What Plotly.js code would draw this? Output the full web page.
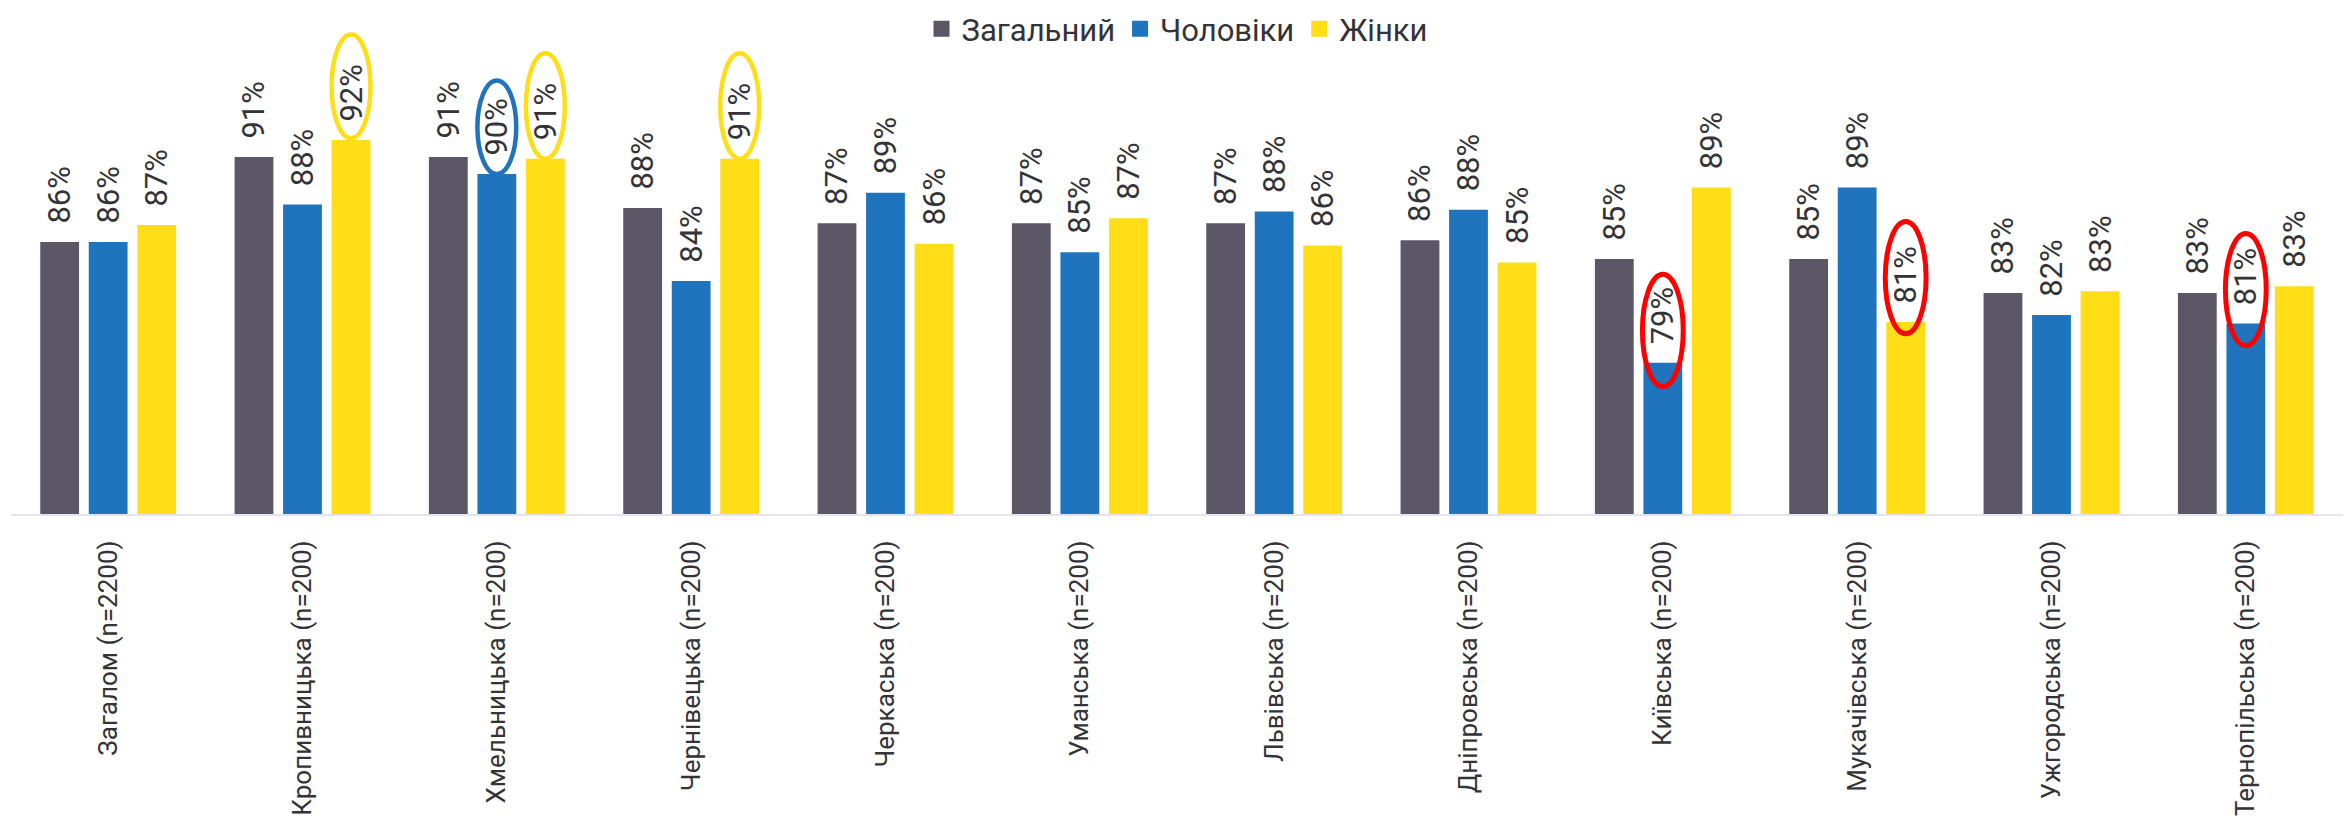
<!DOCTYPE html>
<html>
<head>
<meta charset="utf-8">
<script src="https://cdn.plot.ly/plotly-3.0.1.min.js"></script>
<style>
  html, body { margin: 0; padding: 0; background: #ffffff; }
  #chart { width: 2344px; height: 822px; }
</style>
</head>
<body>
<div id="chart"></div>
<script>
// ---- data (percent) ----
var categories = [
  'Загалом (n=2200)', 'Кропивницька (n=200)', 'Хмельницька (n=200)', 'Чернівецька (n=200)',
  'Черкаська (n=200)', 'Уманська (n=200)', 'Львівська (n=200)', 'Дніпровська (n=200)',
  'Київська (n=200)', 'Мукачівська (n=200)', 'Ужгородська (n=200)', 'Тернопільська (n=200)'
];
var seriesNames = ['Загальний', 'Чоловіки', 'Жінки'];
var totalValues = [86.0, 91.0, 91.0, 88.0, 87.1, 87.1, 87.1, 86.1, 85.0, 85.0, 83.0, 83.0];
var menValues   = [86.0, 88.2, 90.0, 83.7, 88.9, 85.4, 87.8, 87.9, 78.9, 89.2, 81.7, 81.2];
var womenValues = [87.0, 92.0, 90.9, 90.9, 85.9, 87.4, 85.8, 84.8, 89.2, 81.3, 83.1, 83.4];

// ---- styling ----
var colors = ['#5B5767', '#1F74BD', '#FFDE17'];
var textColor = '#333338';
var fontFamily = 'Roboto, "Noto Sans", sans-serif';
var BARGAP = 0.251;
var GROUPGAP = 0.2;

// highlighted labels: [seriesIndex, categoryIndex, colour, bottomOffset(%), topOffset(%)]
var highlights = [
  [2, 1, '#FFDE17', 0.1, 6.2],
  [1, 2, '#1F74BD', 0.0, 5.5],
  [2, 2, '#FFDE17', 0.0, 6.2],
  [2, 3, '#FFDE17', 0.0, 6.2],
  [1, 8, '#FF0000', -1.4, 5.2],
  [2, 9, '#FF0000', -0.7, 5.9],
  [1, 11, '#FF0000', -1.3, 5.3]
];

var allValues = [totalValues, menValues, womenValues];
var NBSP = '\u00A0';

var traces = allValues.map(function (vals, i) {
  return {
    type: 'bar',
    name: seriesNames[i],
    legendgroup: 'g' + i,
    showlegend: false,
    x: categories,
    y: vals,
    marker: { color: colors[i] },
    texttemplate: NBSP + NBSP + '%{y:.0f}%',
    textposition: 'outside',
    textangle: -90,
    constraintext: 'none',
    cliponaxis: false,
    textfont: { family: fontFamily, size: 31, color: textColor },
    hoverinfo: 'skip'
  };
});

// legend entries with larger square symbols
seriesNames.forEach(function (nm, i) {
  traces.push({
    type: 'scatter',
    mode: 'markers',
    name: nm,
    legendgroup: 'g' + i,
    showlegend: true,
    x: [null],
    y: [null],
    marker: { color: colors[i], symbol: 'square', size: 18 },
    hoverinfo: 'skip'
  });
});

var slot = (1 - BARGAP) / 3;
var shapes = highlights.map(function (h) {
  var s = h[0], c = h[1];
  var v = allValues[s][c];
  var cx = c + (s - 1) * slot;
  var isRed = h[2] === '#FF0000';
  var hw = isRed ? 0.105 : 0.1;
  return {
    type: 'circle',
    xref: 'x', yref: 'y',
    x0: cx - hw, x1: cx + hw,
    y0: v + h[3], y1: v + h[4],
    line: { color: h[2], width: isRed ? 5 : 4.5 },
    fillcolor: 'rgba(0,0,0,0)',
    layer: 'above'
  };
});

var layout = {
  width: 2344,
  height: 822,
  margin: { l: 11, r: 1, t: 10, b: 308, pad: 0 },
  paper_bgcolor: '#ffffff',
  plot_bgcolor: '#ffffff',
  barmode: 'group',
  bargap: BARGAP,
  bargroupgap: GROUPGAP,
  showlegend: true,
  legend: {
    orientation: 'h',
    x: 0.5, xanchor: 'center',
    y: 0.962, yanchor: 'middle',
    font: { family: fontFamily, size: 31, color: textColor },
    bgcolor: 'rgba(0,0,0,0)',
    traceorder: 'normal',
    itemclick: false,
    itemdoubleclick: false
  },
  xaxis: {
    type: 'category',
    tickangle: -90,
    tickfont: { family: fontFamily, size: 26, color: textColor },
    showline: true,
    linecolor: '#E4E3F1',
    linewidth: 2,
    showgrid: false,
    zeroline: false,
    ticks: 'outside',
    ticklen: 14,
    tickcolor: 'rgba(0,0,0,0)',
    fixedrange: true
  },
  yaxis: {
    range: [70, 70 + 504 / 17],
    visible: false,
    showgrid: false,
    zeroline: false,
    fixedrange: true
  },
  shapes: shapes
};

Plotly.newPlot('chart', traces, layout, { displayModeBar: false, staticPlot: true });
</script>
</body>
</html>
